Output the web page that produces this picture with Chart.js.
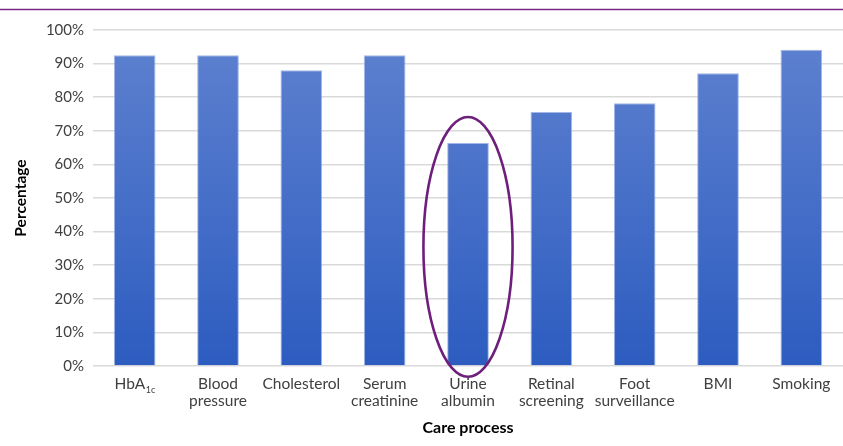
<!DOCTYPE html>
<html>
<head>
<meta charset="utf-8">
<script src="https://cdn.jsdelivr.net/npm/chart.js@4/dist/chart.umd.min.js"></script>
<style>
  html, body { margin: 0; padding: 0; background: #ffffff; }
  #wrap { position: relative; width: 843px; height: 446px; }
</style>
</head>
<body>
<div id="wrap"><canvas id="c" width="843" height="446"></canvas></div>
<script>
const categories = [
  ["HbA1c"],
  ["Blood", "pressure"],
  ["Cholesterol"],
  ["Serum", "creatinine"],
  ["Urine", "albumin"],
  ["Retinal", "screening"],
  ["Foot", "surveillance"],
  ["BMI"],
  ["Smoking"]
];
const percentages = [92.5, 92.5, 88.0, 92.5, 66.4, 75.6, 78.2, 87.1, 94.1];
const yTicks = [0, 10, 20, 30, 40, 50, 60, 70, 80, 90, 100];
const highlightIndex = 4;
const highlightRange = [-3.2, 74.1];

const FONT = "Lato, 'Open Sans', sans-serif";
const TEXT = "#404040";
const XSIZE = 15.5;

function barGradient(ctx) {
  const chart = ctx.chart;
  const area = chart.chartArea;
  if (!area) return "#4472c4";
  const g = chart.ctx.createLinearGradient(0, area.top, 0, area.bottom);
  g.addColorStop(0, "#5f82d0");
  g.addColorStop(1, "#2d5cc0");
  return g;
}

const decorations = {
  id: "decorations",
  afterDraw(chart) {
    const ctx = chart.ctx;
    const xs = chart.scales.x, ys = chart.scales.y;
    ctx.save();
    // top rule
    ctx.strokeStyle = "#7a2a84";
    ctx.lineWidth = 1.6;
    ctx.beginPath();
    ctx.moveTo(0, 9.5);
    ctx.lineTo(chart.width, 9.5);
    ctx.stroke();
    // highlight ellipse
    const cx = xs.getPixelForValue(highlightIndex);
    const catW = xs.getPixelForValue(1) - xs.getPixelForValue(0);
    const yTop = ys.getPixelForValue(highlightRange[1]);
    const yBot = ys.getPixelForValue(highlightRange[0]);
    ctx.strokeStyle = "#6e1f7c";
    ctx.lineWidth = 2.6;
    ctx.beginPath();
    ctx.ellipse(cx, (yTop + yBot) / 2, catW * 0.535, (yBot - yTop) / 2, 0, 0, Math.PI * 2);
    ctx.stroke();
    // HbA1c label with subscript
    const x0 = xs.getPixelForValue(0);
    const yLab = xs.top + 18;
    ctx.fillStyle = TEXT;
    ctx.textBaseline = "middle";
    ctx.textAlign = "left";
    ctx.font = XSIZE + "px " + FONT;
    const main = "HbA";
    const wMain = ctx.measureText(main).width;
    ctx.font = "9px " + FONT;
    const sub = "1c";
    const wSub = ctx.measureText(sub).width;
    const left = x0 - (wMain + wSub) / 2;
    ctx.font = XSIZE + "px " + FONT;
    ctx.fillText(main, left, yLab);
    ctx.font = "9px " + FONT;
    ctx.fillText(sub, left + wMain + 0.5, yLab + 6);
    ctx.restore();
  }
};

new Chart(document.getElementById("c"), {
  type: "bar",
  data: {
    labels: categories,
    datasets: [{
      data: percentages,
      backgroundColor: barGradient,
      borderColor: "rgba(140,165,225,0.8)",
      borderWidth: 1,
      barPercentage: 0.5,
      categoryPercentage: 1.0
    }]
  },
  options: {
    responsive: false,
    animation: false,
    devicePixelRatio: 1,
    layout: { padding: { top: 30, right: 0, left: 0, bottom: 4 } },
    plugins: {
      legend: { display: false },
      tooltip: { enabled: false }
    },
    scales: {
      x: {
        grid: { display: false },
        border: { display: false },
        ticks: {
          color: TEXT,
          font: { family: FONT, size: XSIZE, lineHeight: 1.1 },
          maxRotation: 0,
          autoSkip: false,
          padding: 1,
          callback: function (v, i) { return i === 0 ? "" : categories[i]; }
        },
        title: {
          display: true,
          text: "Care process",
          color: "#000000",
          font: { family: FONT, size: 16, weight: "bold" },
          padding: { top: 3, bottom: 5 }
        },
        afterFit(scale) { scale.height = 76; }
      },
      y: {
        min: 0,
        max: 100,
        afterBuildTicks(scale) { scale.ticks = yTicks.map(v => ({ value: v })); },
        grid: { color: "#d9d9d9", lineWidth: 1.5, drawTicks: false },
        border: { display: false },
        ticks: {
          color: TEXT,
          font: { family: FONT, size: 15 },
          padding: 9,
          callback: v => v + "%"
        },
        title: {
          display: true,
          text: "Percentage",
          color: "#000000",
          font: { family: FONT, size: 15.5, weight: "bold" },
          padding: { top: 12, bottom: 0 }
        },
        afterFit(scale) { scale.width = 93; }
      }
    }
  },
  plugins: [decorations]
});
</script>
</body>
</html>
